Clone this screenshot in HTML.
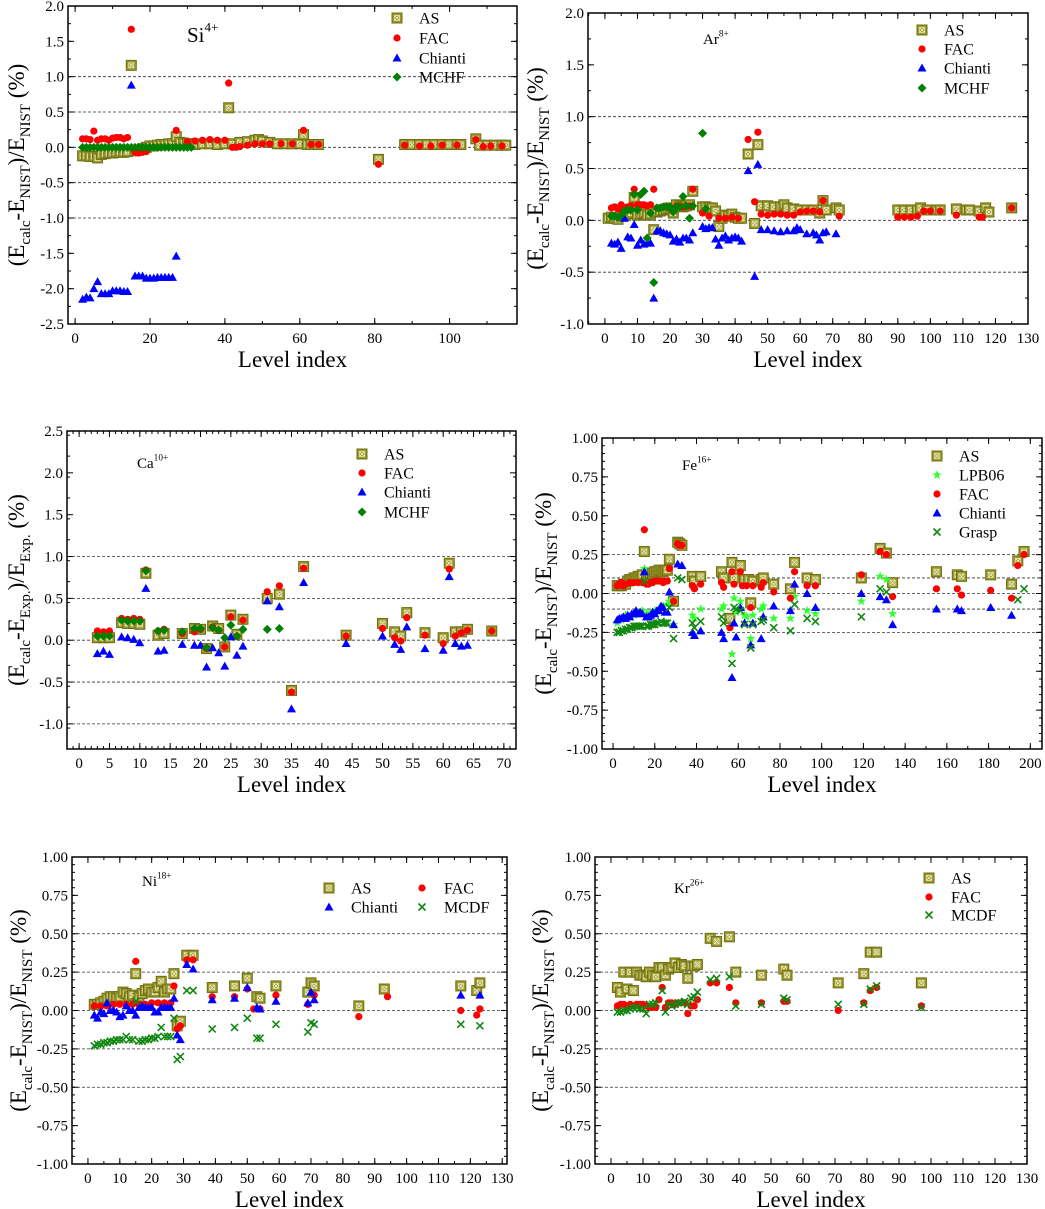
<!DOCTYPE html>
<html><head><meta charset="utf-8"><style>
html,body{margin:0;padding:0;background:#fff;}
svg{display:block;font-family:"Liberation Serif",serif;}
</style></head><body>
<svg id="fig" width="1045" height="1209" viewBox="0 0 1045 1209" xmlns="http://www.w3.org/2000/svg"></svg>
<script>
// ---------------- DATA ----------------
const siAS=[[2,-0.12],[3,-0.12],[4,-0.13],[5,-0.13],[6,-0.15],[7,-0.1],[8,-0.09],[9,-0.08],[10,-0.08],[11,-0.07],[12,-0.07],[13,-0.07],[14,-0.06],[15,1.16],[16,-0.05],[17,-0.04],[18,-0.02],[19,0.0],[20,0.02],[21,0.02],[22,0.03],[23,0.04],[24,0.04],[25,0.05],[26,0.05],[27,0.15],[28,0.07],[29,0.06],[30,0.05],[31,0.05],[32,0.04],[34,0.05],[36,0.05],[38,0.04],[40,0.05],[41,0.56],[42,0.05],[44,0.07],[46,0.08],[48,0.1],[49,0.11],[50,0.09],[52,0.07],[54,0.05],[56,0.05],[58,0.05],[60,0.05],[61,0.18],[62,0.04],[63,0.04],[64,0.04],[65,0.04],[81,-0.17],[88,0.04],[90,0.04],[92,0.04],[94,0.04],[96,0.04],[98,0.04],[100,0.04],[102,0.04],[103,0.04],[107,0.12],[108,0.03],[110,0.03],[112,0.03],[114,0.03],[115,0.03]];
const siFAC=[[2,0.12],[3,0.12],[4,0.11],[5,0.23],[6,0.1],[7,0.12],[8,0.12],[9,0.1],[10,0.13],[11,0.14],[12,0.14],[13,0.12],[14,0.14],[15,1.67],[16,-0.07],[17,-0.08],[18,-0.07],[19,-0.06],[27,0.24],[30,0.08],[32,0.09],[34,0.1],[36,0.11],[38,0.1],[40,0.1],[41,0.91],[42,0.0],[43,0.0],[44,0.01],[46,0.03],[48,0.05],[50,0.05],[52,0.05],[55,0.05],[58,0.05],[61,0.24],[63,0.04],[65,0.04],[81,-0.24],[88,0.03],[92,0.02],[95,0.02],[98,0.03],[102,0.03],[107,0.11],[109,0.01],[111,0.02],[114,0.02]];
const siChianti=[[2,-2.15],[3,-2.12],[4,-2.13],[5,-2.0],[6,-1.9],[7,-2.07],[8,-2.07],[9,-2.07],[10,-2.03],[11,-2.03],[12,-2.03],[13,-2.04],[14,-2.04],[15,0.88],[16,-1.82],[17,-1.82],[18,-1.82],[19,-1.85],[20,-1.85],[21,-1.85],[22,-1.84],[23,-1.84],[24,-1.84],[25,-1.84],[26,-1.84],[27,-1.54]];
const siMCHF=[[2,0],[3,0],[4,0],[5,0],[6,0],[7,0],[8,0],[9,0],[10,0],[11,0],[12,0],[13,0],[14,0],[15,0],[16,0],[17,0],[18,0],[19,0],[20,0],[21,0],[22,0],[23,0],[24,0],[25,0],[26,0],[27,0],[28,0],[29,0],[30,0],[31,0]];

const arAS=[[1,0.02],[2,0.03],[3,0.02],[4,0.01],[5,0.04],[6,0.05],[7,0.06],[8,0.07],[9,0.22],[10,0.05],[11,0.06],[12,0.07],[13,0.05],[14,0.06],[15,-0.09],[16,0.08],[17,0.09],[18,0.1],[19,0.11],[20,0.12],[21,0.07],[22,0.15],[23,0.14],[24,0.13],[25,0.14],[26,0.15],[27,0.28],[30,0.13],[31,0.13],[32,0.12],[33,0.12],[34,0.09],[35,-0.06],[36,0.02],[37,0.05],[38,0.04],[39,0.06],[40,0.03],[41,0.02],[42,0.02],[44,0.64],[46,-0.03],[47,0.73],[48,0.14],[50,0.14],[52,0.13],[54,0.13],[55,0.15],[56,0.12],[58,0.11],[60,0.1],[62,0.1],[64,0.1],[66,0.07],[67,0.19],[68,0.1],[71,0.12],[72,0.1],[90,0.1],[92,0.1],[94,0.1],[96,0.1],[97,0.12],[99,0.1],[102,0.1],[103,0.1],[108,0.11],[111,0.1],[112,0.1],[115,0.09],[117,0.12],[118,0.08],[125,0.12]];
const arFAC=[[2,0.12],[3,0.13],[4,0.11],[5,0.15],[6,0.12],[7,0.13],[8,0.14],[9,0.3],[10,0.15],[11,0.15],[12,0.15],[13,0.14],[14,0.15],[15,0.3],[16,0.12],[18,0.13],[20,0.12],[22,0.14],[24,0.13],[26,0.14],[27,0.3],[30,0.07],[32,0.04],[35,0.02],[37,0.02],[39,0.03],[41,0.02],[44,0.78],[46,0.18],[47,0.85],[48,0.06],[50,0.05],[52,0.06],[54,0.06],[56,0.05],[58,0.05],[60,0.08],[62,0.09],[64,0.09],[66,0.08],[67,0.19],[72,0.04],[90,0.03],[92,0.03],[94,0.03],[96,0.04],[98,0.09],[100,0.09],[103,0.09],[108,0.05],[115,0.03],[116,0.03],[125,0.12]];
const arChianti=[[2,-0.22],[3,-0.23],[4,-0.21],[5,-0.27],[6,0.02],[7,-0.16],[8,-0.17],[9,-0.04],[10,-0.24],[11,-0.19],[12,-0.23],[13,-0.22],[14,-0.22],[15,-0.75],[16,-0.1],[17,-0.1],[18,-0.12],[19,-0.13],[20,-0.14],[21,-0.2],[22,-0.18],[23,-0.21],[24,-0.17],[25,-0.17],[26,-0.19],[27,-0.12],[30,-0.06],[31,-0.08],[32,-0.07],[33,-0.07],[34,-0.18],[35,-0.24],[36,-0.17],[37,-0.15],[38,-0.19],[39,-0.17],[40,-0.16],[41,-0.17],[42,-0.2],[44,0.48],[46,-0.54],[47,0.54],[48,-0.09],[50,-0.09],[52,-0.1],[54,-0.11],[56,-0.1],[58,-0.1],[59,-0.07],[60,-0.09],[62,-0.13],[64,-0.12],[65,-0.14],[66,-0.19],[67,-0.12],[68,-0.11],[71,-0.13]];
const arMCHF=[[2,0.04],[3,0.04],[4,0.03],[5,0.05],[6,0.09],[7,0.1],[8,0.1],[9,0.25],[10,0.1],[11,0.25],[12,0.28],[13,-0.17],[14,0.07],[15,-0.6],[16,0.12],[17,0.12],[18,0.13],[19,0.13],[20,0.13],[21,0.08],[22,0.13],[23,0.13],[24,0.23],[25,0.14],[26,0.02],[27,0.14],[30,0.84],[31,0.11]];

const caAS=[[3,0.03],[4,0.03],[5,0.03],[7,0.21],[8,0.2],[9,0.2],[10,0.19],[11,0.8],[13,0.06],[14,0.08],[17,0.08],[19,0.14],[20,0.13],[21,-0.1],[22,0.17],[23,0.14],[24,-0.08],[25,0.3],[26,0.07],[27,0.25],[31,0.5],[33,0.55],[35,-0.6],[37,0.88],[44,0.06],[50,0.2],[52,0.1],[53,0.05],[54,0.33],[57,0.09],[60,0.03],[61,0.92],[62,0.1],[63,0.1],[64,0.13],[68,0.11]];
const caFAC=[[3,0.11],[4,0.1],[5,0.11],[7,0.26],[8,0.25],[9,0.26],[10,0.25],[11,0.84],[13,0.11],[14,0.13],[17,0.08],[19,0.1],[20,0.13],[21,-0.1],[22,0.16],[23,0.12],[24,-0.08],[25,0.28],[26,0.05],[27,0.24],[31,0.58],[33,0.65],[35,-0.62],[37,0.86],[44,0.05],[50,0.14],[52,0.03],[53,-0.01],[54,0.27],[57,0.06],[60,-0.04],[61,0.85],[62,0.05],[63,0.09],[64,0.12],[68,0.11]];
const caChianti=[[3,-0.16],[4,-0.13],[5,-0.17],[7,0.04],[8,0.03],[9,0.01],[10,-0.03],[11,0.62],[13,-0.13],[14,-0.12],[17,-0.05],[19,-0.06],[20,-0.06],[21,-0.32],[22,-0.09],[23,-0.15],[24,-0.31],[25,0.04],[26,-0.18],[27,-0.07],[31,0.47],[33,0.4],[35,-0.82],[37,0.69],[44,-0.04],[50,0.05],[52,-0.05],[53,-0.11],[54,0.16],[57,-0.1],[60,-0.12],[61,0.76],[62,-0.04],[63,-0.07],[64,-0.06]];
const caMCHF=[[3,0.05],[4,0.05],[5,0.05],[7,0.24],[8,0.23],[9,0.23],[10,0.23],[11,0.83],[13,0.11],[14,0.12],[17,0.1],[19,0.14],[20,0.14],[21,-0.09],[22,0.15],[23,0.12],[24,0.03],[25,0.18],[26,0.05],[27,0.13],[31,0.13],[33,0.14]];

const feAS=[[2,0.05],[3,0.05],[4,0.05],[5,0.06],[6,0.06],[7,0.08],[8,0.09],[9,0.09],[10,0.1],[11,0.1],[12,0.11],[13,0.11],[14,0.12],[15,0.27],[16,0.12],[17,0.12],[18,0.13],[19,0.13],[20,0.14],[21,0.14],[22,0.15],[23,0.15],[24,0.14],[25,0.15],[26,0.15],[27,0.22],[29,-0.05],[31,0.33],[32,0.32],[33,0.31],[38,0.11],[39,0.08],[42,0.11],[52,0.14],[53,0.1],[56,-0.16],[57,0.2],[58,0.1],[61,0.18],[63,0.09],[65,0.09],[66,-0.06],[67,0.08],[71,0.09],[72,0.1],[77,0.06],[85,0.03],[87,0.2],[93,0.1],[97,0.09],[119,0.1],[128,0.29],[131,0.26],[134,0.07],[155,0.14],[165,0.12],[167,0.11],[181,0.12],[191,0.06],[194,0.21],[197,0.27]];
const feLPB06=[[2,-0.19],[4,-0.17],[6,-0.14],[8,-0.15],[10,-0.14],[12,-0.12],[14,-0.11],[15,0.16],[16,-0.13],[18,-0.12],[20,-0.11],[22,-0.1],[24,-0.08],[26,-0.07],[27,-0.05],[29,-0.2],[38,-0.14],[39,-0.16],[42,-0.1],[52,-0.1],[53,-0.08],[57,-0.39],[58,-0.03],[59,-0.12],[61,-0.05],[63,-0.14],[64,-0.15],[66,-0.29],[67,-0.14],[71,-0.1],[72,-0.08],[77,-0.16],[85,-0.16],[87,-0.02],[93,-0.11],[97,-0.13],[119,-0.05],[128,0.11],[131,0.09],[134,-0.13]];
const feFAC=[[2,0.05],[3,0.06],[4,0.07],[5,0.05],[6,0.06],[8,0.07],[10,0.07],[12,0.07],[14,0.07],[15,0.41],[16,0.06],[17,0.06],[18,0.07],[19,0.07],[20,0.08],[21,0.08],[22,0.08],[23,0.08],[24,0.07],[25,0.08],[26,0.08],[27,0.16],[29,-0.05],[31,0.32],[32,0.31],[33,0.31],[38,0.05],[39,0.03],[42,0.06],[52,0.07],[53,0.04],[56,-0.22],[57,0.14],[58,0.06],[61,0.14],[62,0.05],[64,0.05],[66,-0.09],[67,0.05],[71,0.04],[72,0.07],[77,0.01],[85,-0.03],[87,0.14],[93,0.05],[97,0.05],[119,0.12],[128,0.27],[131,0.25],[134,-0.02],[155,0.03],[165,0.03],[167,-0.01],[181,0.02],[191,-0.03],[194,0.18],[197,0.25]];
const feChianti=[[2,-0.17],[3,-0.16],[4,-0.16],[5,-0.15],[6,-0.16],[7,-0.14],[8,-0.15],[9,-0.13],[10,-0.13],[11,-0.11],[12,-0.13],[13,-0.12],[14,-0.13],[15,0.14],[16,-0.15],[17,-0.15],[18,-0.14],[19,-0.12],[20,-0.13],[21,-0.11],[22,-0.11],[23,-0.08],[24,-0.09],[25,-0.12],[26,-0.12],[27,0.01],[29,-0.2],[31,0.19],[33,0.18],[38,-0.25],[39,-0.27],[42,-0.24],[52,-0.25],[53,-0.29],[57,-0.54],[58,-0.19],[59,-0.28],[61,-0.09],[63,-0.19],[66,-0.33],[67,-0.19],[71,-0.29],[72,-0.15],[77,-0.08],[85,-0.11],[87,0.06],[93,0.0],[97,-0.09],[119,0.0],[128,-0.02],[131,-0.04],[134,-0.2],[155,-0.1],[165,-0.1],[167,-0.11],[181,-0.09],[191,-0.14]];
const feGrasp=[[2,-0.25],[3,-0.25],[4,-0.24],[5,-0.24],[6,-0.23],[7,-0.23],[8,-0.22],[9,-0.22],[10,-0.21],[11,-0.21],[12,-0.21],[13,-0.21],[14,-0.21],[15,0.08],[16,-0.21],[17,-0.21],[18,-0.2],[19,-0.2],[20,-0.2],[21,-0.19],[22,-0.19],[23,-0.18],[24,-0.19],[25,-0.19],[26,-0.19],[27,-0.09],[29,-0.29],[31,0.1],[33,0.09],[38,-0.19],[39,-0.22],[42,-0.18],[52,-0.15],[53,-0.19],[57,-0.45],[58,-0.09],[59,-0.1],[61,-0.11],[63,-0.2],[66,-0.35],[67,-0.2],[71,-0.18],[72,-0.17],[77,-0.22],[85,-0.24],[87,-0.07],[93,-0.16],[97,-0.18],[119,-0.15],[128,0.03],[131,0.01],[194,-0.04],[197,0.03]];

const niAS=[[2,0.04],[3,0.04],[4,0.05],[5,0.06],[6,0.08],[7,0.09],[8,0.09],[9,0.08],[10,0.09],[11,0.12],[12,0.11],[13,0.09],[14,0.1],[15,0.24],[16,0.09],[17,0.11],[18,0.13],[19,0.14],[20,0.12],[21,0.12],[22,0.15],[23,0.19],[24,0.12],[25,0.14],[26,0.14],[27,0.24],[28,-0.1],[29,-0.07],[31,0.36],[33,0.36],[39,0.15],[46,0.16],[50,0.21],[53,0.09],[54,0.08],[59,0.16],[69,0.12],[70,0.18],[71,0.16],[85,0.03],[93,0.14],[117,0.16],[122,0.13],[123,0.18]];
const niFAC=[[2,0.03],[4,0.03],[6,0.03],[8,0.04],[10,0.04],[12,0.04],[14,0.04],[15,0.32],[16,0.04],[18,0.04],[20,0.05],[22,0.05],[24,0.05],[26,0.05],[27,0.16],[28,-0.12],[29,-0.1],[31,0.33],[33,0.33],[39,0.09],[46,0.09],[50,0.14],[52,0.01],[54,0.01],[59,0.1],[69,0.04],[71,0.1],[85,-0.04],[94,0.09],[117,0.0],[122,-0.03],[123,0.01]];
const niChianti=[[2,-0.03],[3,-0.05],[4,-0.01],[5,-0.02],[6,0.05],[7,0.0],[8,0.0],[9,-0.01],[10,-0.04],[11,-0.03],[12,0.03],[13,0.0],[14,0.0],[15,-0.03],[16,0.02],[17,0.03],[18,0.02],[19,0.02],[20,0.02],[21,-0.01],[22,-0.01],[23,0.02],[24,0.02],[25,0.02],[26,0.02],[27,0.08],[28,-0.16],[29,-0.19],[31,0.3],[33,0.27],[39,0.07],[46,0.08],[50,0.15],[53,0.02],[54,0.01],[59,0.06],[69,0.05],[70,0.12],[71,0.07],[117,0.1],[123,0.1]];
const niMCDF=[[2,-0.23],[3,-0.22],[4,-0.22],[5,-0.21],[6,-0.21],[7,-0.2],[8,-0.2],[9,-0.19],[10,-0.19],[11,-0.19],[12,-0.17],[13,-0.19],[14,-0.19],[15,0.06],[16,-0.2],[17,-0.2],[18,-0.19],[19,-0.19],[20,-0.18],[21,-0.18],[22,-0.17],[23,-0.11],[24,-0.17],[25,-0.17],[26,-0.17],[27,-0.05],[28,-0.32],[29,-0.3],[31,0.13],[33,0.13],[39,-0.12],[46,-0.11],[50,-0.05],[53,-0.18],[54,-0.18],[59,-0.09],[69,-0.14],[70,-0.08],[71,-0.09],[117,-0.09],[123,-0.1]];

const krAS=[[2,0.15],[3,0.12],[4,0.25],[5,0.14],[6,0.25],[7,0.13],[8,0.25],[9,0.23],[10,0.23],[11,0.22],[12,0.25],[13,0.23],[14,0.22],[15,0.28],[16,0.28],[17,0.23],[18,0.27],[19,0.28],[20,0.31],[21,0.28],[22,0.3],[23,0.29],[24,0.21],[25,0.29],[26,0.29],[27,0.3],[31,0.47],[33,0.45],[37,0.48],[39,0.25],[47,0.23],[54,0.27],[55,0.23],[71,0.18],[79,0.24],[81,0.38],[83,0.38],[97,0.18]];
const krFAC=[[2,0.03],[3,0.04],[4,0.04],[5,0.03],[6,0.04],[7,0.03],[8,0.04],[9,0.04],[10,0.04],[11,0.03],[12,0.02],[13,0.02],[14,0.02],[15,0.07],[16,0.15],[17,0.02],[18,0.05],[19,0.05],[20,0.04],[21,0.05],[22,0.05],[23,0.05],[24,-0.02],[25,0.03],[26,0.03],[27,0.07],[31,0.18],[33,0.18],[37,0.15],[39,0.05],[47,0.05],[54,0.06],[55,0.06],[71,0.0],[79,0.05],[81,0.13],[83,0.15],[97,0.03]];
const krMCDF=[[2,-0.01],[3,-0.01],[4,0.0],[5,0.0],[6,0.01],[7,0.02],[8,0.02],[9,0.01],[10,0.01],[11,-0.02],[12,0.04],[13,0.04],[14,0.05],[16,0.13],[17,-0.01],[18,0.04],[19,0.03],[20,0.04],[21,0.05],[22,0.05],[23,0.06],[24,0.04],[25,0.08],[26,0.09],[27,0.12],[31,0.2],[33,0.21],[37,0.22],[39,0.03],[47,0.04],[54,0.08],[55,0.07],[71,0.04],[79,0.04],[81,0.14],[83,0.16],[97,0.02]];

const siYTicks=[2.0,1.5,1.0,0.5,0.0,-0.5,-1.0,-1.5,-2.0,-2.5];
const siXTicks=[0,20,40,60,80,100];
const arYTicks=[2.0,1.5,1.0,0.5,0.0,-0.5,-1.0];
const arXTicks=[0,10,20,30,40,50,60,70,80,90,100,110,120,130];
const caYTicks=[2.5,2.0,1.5,1.0,0.5,0.0,-0.5,-1.0];
const caXTicks=[0,5,10,15,20,25,30,35,40,45,50,55,60,65,70];
const feYTicks=[1.0,0.75,0.5,0.25,0.0,-0.25,-0.5,-0.75,-1.0];
const feXTicks=[0,20,40,60,80,100,120,140,160,180,200];
const niYTicks=[1.0,0.75,0.5,0.25,0.0,-0.25,-0.5,-0.75,-1.0];
const niXTicks=[0,10,20,30,40,50,60,70,80,90,100,110,120,130];
const krYTicks=niYTicks;
const krXTicks=niXTicks;

// ---------------- DRAWING ----------------
const NS='http://www.w3.org/2000/svg';
const svg=document.getElementById('fig');
function mk(tag,attrs,parent){const e=document.createElementNS(NS,tag);for(const k in attrs)e.setAttribute(k,attrs[k]);(parent||svg).appendChild(e);return e;}

function marker(g,type,x,y){
  let m;
  if(type==='AS'){
    m=mk('g',{},g);
    mk('rect',{x:x-5,y:y-5,width:10,height:10,fill:'#9a9a2a',stroke:'#6e6e14','stroke-width':1},m);
    mk('rect',{x:x-2.5,y:y-2.5,width:5,height:5,fill:'none',stroke:'#e8e8c0','stroke-width':0.8},m);
    mk('path',{d:`M${x-2} ${y-2}L${x+2} ${y+2}M${x+2} ${y-2}L${x-2} ${y+2}`,stroke:'#f4f4d8','stroke-width':0.8},m);
  }else if(type==='FAC'){
    m=mk('circle',{cx:x,cy:y,r:3.6,fill:'#ff0000'},g);
  }else if(type==='Chianti'){
    m=mk('path',{d:`M${x} ${y-4.5}L${x+4.5} ${y+3.5}L${x-4.5} ${y+3.5}Z`,fill:'#0000ff'},g);
  }else if(type==='MCHF'){
    m=mk('path',{d:`M${x} ${y-4.5}L${x+4.5} ${y}L${x} ${y+4.5}L${x-4.5} ${y}Z`,fill:'#008000'},g);
  }else if(type==='LPB06'){
    let d='';for(let i=0;i<10;i++){const r=i%2?2:5;const a=-Math.PI/2+i*Math.PI/5;d+=(i?'L':'M')+(x+r*Math.cos(a)).toFixed(2)+' '+(y+r*Math.sin(a)).toFixed(2);}
    m=mk('path',{d:d+'Z',fill:'#33ff33'},g);
  }else{
    m=mk('path',{d:`M${x-3.5} ${y-3.5}L${x+3.5} ${y+3.5}M${x+3.5} ${y-3.5}L${x-3.5} ${y+3.5}`,stroke:'#118811','stroke-width':1.6,fill:'none'},g);
  }
  return m;
}

function panel(p){
  const g=mk('g',{});
  
  
  const [X0,Y0,X1,Y1]=p.box;
  const sx=v=>X0+(v-p.xmin)/(p.xmax-p.xmin)*(X1-X0);
  const sy=v=>Y1-(v-p.ymin)/(p.ymax-p.ymin)*(Y1-Y0);
  p.dash.forEach(v=>{const l=mk('line',{x1:X0,x2:X1,y1:sy(v),y2:sy(v),stroke:'#333','stroke-width':0.8,'stroke-dasharray':'3,2'},g);
    });
  p.series.forEach(s=>{
    const sg=mk('g',{},g);
    
    
    s.data.forEach(d=>{const m=marker(sg,s.type,sx(d[0]),sy(d[1]));
      });
  });
  const fr=mk('rect',{x:X0,y:Y0,width:X1-X0,height:Y1-Y0,fill:'none',stroke:'#000','stroke-width':1.5},g);
  
  const tk=mk('g',{stroke:'#000','stroke-width':1},g);
  
  const ys=p.yt[0]-p.yt[1];
  for(let i=0;i<p.yt.length;i++){
    const v=p.yt[i];const y=sy(v);
    mk('line',{x1:X0,x2:X0+6,y1:y,y2:y},tk);mk('line',{x1:X1,x2:X1-6,y1:y,y2:y},tk);
    const t=mk('text',{x:X0-4,y:y+5,'text-anchor':'end','font-size':15,fill:'#000',stroke:'none'},g);
    t.textContent=v.toFixed(p.ydec);
    
  }
  for(let v=p.ymin;v<=p.ymax+1e-9;v+=ys/p.yminor){const y=sy(v);
    mk('line',{x1:X0,x2:X0+3,y1:y,y2:y},tk);mk('line',{x1:X1,x2:X1-3,y1:y,y2:y},tk);}
  const xs=p.xt[1]-p.xt[0];
  p.xt.forEach(v=>{const x=sx(v);
    mk('line',{x1:x,x2:x,y1:Y1,y2:Y1-6},tk);mk('line',{x1:x,x2:x,y1:Y0,y2:Y0+6},tk);
    const t=mk('text',{x:x,y:Y1+19,'text-anchor':'middle','font-size':15,fill:'#000',stroke:'none'},g);
    t.textContent=v;});
  for(let v=p.xt[0]-xs;v<=p.xmax;v+=xs/p.xminor){if(v<p.xmin)continue;const x=sx(v);
    mk('line',{x1:x,x2:x,y1:Y1,y2:Y1-3},tk);mk('line',{x1:x,x2:x,y1:Y0,y2:Y0+3},tk);}
  const xt=mk('text',{x:(X0+X1)/2,y:Y1+43,'text-anchor':'middle','font-size':23},g);
  xt.textContent='Level index';
  const cy=(Y0+Y1)/2;
  const yt=mk('text',{x:0,y:0,'text-anchor':'middle','font-size':23,transform:`translate(${p.ytx},${cy}) rotate(-90)`},g);
  
  const den=p.den;
  yt.innerHTML=`(E<tspan font-size="15" dy="6">calc</tspan><tspan dy="-6">-E</tspan><tspan font-size="15" dy="6">${den}</tspan><tspan dy="-6">)/E</tspan><tspan font-size="15" dy="6">${den}</tspan><tspan dy="-6"> (%)</tspan>`;
  const il=mk('text',{x:p.ion[0],y:p.ion[1],'font-size':p.ion[3]},g);
  
  il.innerHTML=`${p.ion[2]}<tspan font-size="${p.ion[3]*0.62}" dy="${-p.ion[3]*0.5}">${p.ion[4]}</tspan>`;
  const lg=mk('g',{},g);
  p.legend.forEach(l=>{const e=mk('g',{},lg);
    
    marker(e,l[0],l[1],l[2]);
    const t=mk('text',{x:l[1]+22,y:l[2]+5.5,'font-size':16},e);t.textContent=l[0];});
}

panel({name:'si',box:[68,6,517,324],xmin:-1.9,xmax:118,ymin:-2.5,ymax:2.0,xt:siXTicks,xminor:2,yt:siYTicks,yminor:2,ydec:1,
  dash:[1.0,0.5,0,-0.5,-1.0],ytx:24,den:'NIST',ion:[187,42,'Si',21,'4+'],
  series:[{type:'AS',data:siAS},{type:'FAC',data:siFAC},{type:'Chianti',data:siChianti},{type:'MCHF',data:siMCHF}],
  legend:[['AS',397,18],['FAC',397,38],['Chianti',397,58],['MCHF',397,77]]});
panel({name:'ar',box:[588,13,1028,324],xmin:-5.2,xmax:130,ymin:-1.0,ymax:2.0,xt:arXTicks,xminor:2,yt:arYTicks,yminor:2,ydec:1,
  dash:[1.0,0.5,0,-0.5],ytx:543,den:'NIST',ion:[703,44,'Ar',15,'8+'],
  series:[{type:'AS',data:arAS},{type:'FAC',data:arFAC},{type:'Chianti',data:arChianti},{type:'MCHF',data:arMCHF}],
  legend:[['AS',922,30],['FAC',922,49],['Chianti',922,68],['MCHF',922,88]]});
panel({name:'ca',box:[67,431,516,749],xmin:-2,xmax:72,ymin:-1.3,ymax:2.5,xt:caXTicks,xminor:5,yt:caYTicks,yminor:2,ydec:1,
  dash:[1.0,0.5,0,-0.5,-1.0],ytx:24,den:'Exp.',ion:[137,468,'Ca',15,'10+'],
  series:[{type:'AS',data:caAS},{type:'FAC',data:caFAC},{type:'Chianti',data:caChianti},{type:'MCHF',data:caMCHF}],
  legend:[['AS',362,454],['FAC',362,473],['Chianti',362,492],['MCHF',362,512]]});
panel({name:'fe',box:[602,438,1042,749],xmin:-5.3,xmax:205.6,ymin:-1.0,ymax:1.0,xt:feXTicks,xminor:2,yt:feYTicks,yminor:5,ydec:2,
  dash:[0.25,0.1,0,-0.1,-0.25],ytx:551,den:'NIST',ion:[682,470,'Fe',15,'16+'],
  series:[{type:'AS',data:feAS},{type:'LPB06',data:feLPB06},{type:'FAC',data:feFAC},{type:'Chianti',data:feChianti},{type:'Grasp',data:feGrasp}],
  legend:[['AS',937,456],['LPB06',937,475],['FAC',937,494],['Chianti',937,513],['Grasp',937,532]]});
panel({name:'ni',box:[72,857,507,1164],xmin:-5,xmax:131.5,ymin:-1.0,ymax:1.0,xt:niXTicks,xminor:2,yt:niYTicks,yminor:5,ydec:2,
  dash:[0.5,0.25,0,-0.25,-0.5],ytx:26,den:'NIST',ion:[142,886,'Ni',15,'18+'],
  series:[{type:'AS',data:niAS},{type:'FAC',data:niFAC},{type:'Chianti',data:niChianti},{type:'MCDF',data:niMCDF}],
  legend:[['AS',329,888],['FAC',422,888],['Chianti',329,907],['MCDF',422,907]]});
panel({name:'kr',box:[595,857,1027,1164],xmin:-5,xmax:130,ymin:-1.0,ymax:1.0,xt:krXTicks,xminor:2,yt:krYTicks,yminor:5,ydec:2,
  dash:[0.5,0.25,0,-0.25,-0.5],ytx:548,den:'NIST',ion:[674,893,'Kr',15,'26+'],
  series:[{type:'AS',data:krAS},{type:'FAC',data:krFAC},{type:'MCDF',data:krMCDF}],
  legend:[['AS',929,878],['FAC',929,897],['MCDF',929,915]]});
</script>
</body></html>
